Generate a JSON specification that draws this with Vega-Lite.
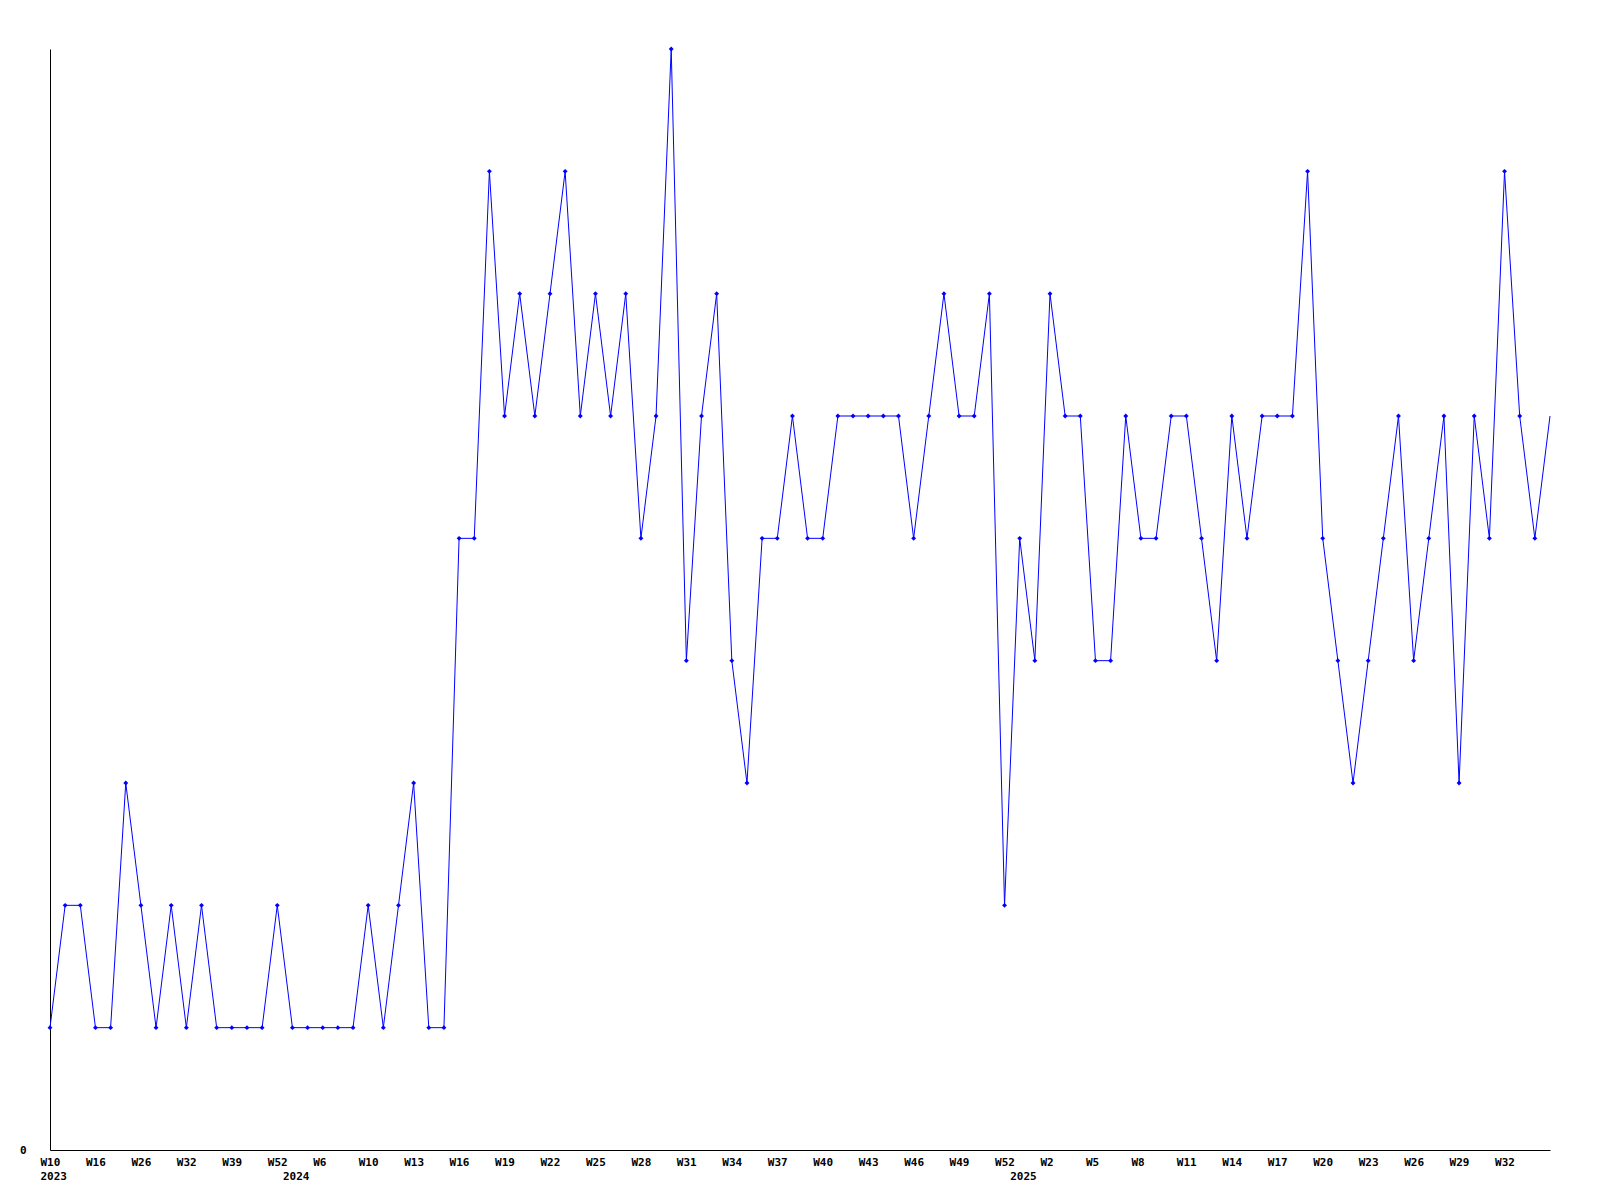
{
  "$schema": "https://vega.github.io/schema/vega-lite/v6.json",
  "width": 1500,
  "height": 1101,
  "autosize": "none",
  "padding": {"left": 50, "top": 49, "right": 50, "bottom": 50},
  "background": "white",
  "config": {
    "view": {"stroke": null},
    "axis": {"labelFont": "DejaVu Sans Mono", "labelFontWeight": "bold", "labelFontSize": 11, "labelColor": "black", "domainColor": "black", "domainWidth": 1, "ticks": false, "tickSize": 0, "grid": false, "title": null}
  },
  "data": {"values": [
    {"i":0,"v":1,"wk":"W10","yr":"2023"},{"i":1,"v":2,"wk":"","yr":""},{"i":2,"v":2,"wk":"","yr":""},
    {"i":3,"v":1,"wk":"W16","yr":""},{"i":4,"v":1,"wk":"","yr":""},{"i":5,"v":3,"wk":"","yr":""},
    {"i":6,"v":2,"wk":"W26","yr":""},{"i":7,"v":1,"wk":"","yr":""},{"i":8,"v":2,"wk":"","yr":""},
    {"i":9,"v":1,"wk":"W32","yr":""},{"i":10,"v":2,"wk":"","yr":""},{"i":11,"v":1,"wk":"","yr":""},
    {"i":12,"v":1,"wk":"W39","yr":""},{"i":13,"v":1,"wk":"","yr":""},{"i":14,"v":1,"wk":"","yr":""},
    {"i":15,"v":2,"wk":"W52","yr":""},{"i":16,"v":1,"wk":"","yr":"2024"},{"i":17,"v":1,"wk":"","yr":""},
    {"i":18,"v":1,"wk":"W6","yr":""},{"i":19,"v":1,"wk":"","yr":""},{"i":20,"v":1,"wk":"","yr":""},
    {"i":21,"v":2,"wk":"W10","yr":""},{"i":22,"v":1,"wk":"","yr":""},{"i":23,"v":2,"wk":"","yr":""},
    {"i":24,"v":3,"wk":"W13","yr":""},{"i":25,"v":1,"wk":"","yr":""},{"i":26,"v":1,"wk":"","yr":""},
    {"i":27,"v":5,"wk":"W16","yr":""},{"i":28,"v":5,"wk":"","yr":""},{"i":29,"v":8,"wk":"","yr":""},
    {"i":30,"v":6,"wk":"W19","yr":""},{"i":31,"v":7,"wk":"","yr":""},{"i":32,"v":6,"wk":"","yr":""},
    {"i":33,"v":7,"wk":"W22","yr":""},{"i":34,"v":8,"wk":"","yr":""},{"i":35,"v":6,"wk":"","yr":""},
    {"i":36,"v":7,"wk":"W25","yr":""},{"i":37,"v":6,"wk":"","yr":""},{"i":38,"v":7,"wk":"","yr":""},
    {"i":39,"v":5,"wk":"W28","yr":""},{"i":40,"v":6,"wk":"","yr":""},{"i":41,"v":9,"wk":"","yr":""},
    {"i":42,"v":4,"wk":"W31","yr":""},{"i":43,"v":6,"wk":"","yr":""},{"i":44,"v":7,"wk":"","yr":""},
    {"i":45,"v":4,"wk":"W34","yr":""},{"i":46,"v":3,"wk":"","yr":""},{"i":47,"v":5,"wk":"","yr":""},
    {"i":48,"v":5,"wk":"W37","yr":""},{"i":49,"v":6,"wk":"","yr":""},{"i":50,"v":5,"wk":"","yr":""},
    {"i":51,"v":5,"wk":"W40","yr":""},{"i":52,"v":6,"wk":"","yr":""},{"i":53,"v":6,"wk":"","yr":""},
    {"i":54,"v":6,"wk":"W43","yr":""},{"i":55,"v":6,"wk":"","yr":""},{"i":56,"v":6,"wk":"","yr":""},
    {"i":57,"v":5,"wk":"W46","yr":""},{"i":58,"v":6,"wk":"","yr":""},{"i":59,"v":7,"wk":"","yr":""},
    {"i":60,"v":6,"wk":"W49","yr":""},{"i":61,"v":6,"wk":"","yr":""},{"i":62,"v":7,"wk":"","yr":""},
    {"i":63,"v":2,"wk":"W52","yr":""},{"i":64,"v":5,"wk":"","yr":"2025"},{"i":65,"v":4,"wk":"","yr":""},
    {"i":66,"v":7,"wk":"W2","yr":""},{"i":67,"v":6,"wk":"","yr":""},{"i":68,"v":6,"wk":"","yr":""},
    {"i":69,"v":4,"wk":"W5","yr":""},{"i":70,"v":4,"wk":"","yr":""},{"i":71,"v":6,"wk":"","yr":""},
    {"i":72,"v":5,"wk":"W8","yr":""},{"i":73,"v":5,"wk":"","yr":""},{"i":74,"v":6,"wk":"","yr":""},
    {"i":75,"v":6,"wk":"W11","yr":""},{"i":76,"v":5,"wk":"","yr":""},{"i":77,"v":4,"wk":"","yr":""},
    {"i":78,"v":6,"wk":"W14","yr":""},{"i":79,"v":5,"wk":"","yr":""},{"i":80,"v":6,"wk":"","yr":""},
    {"i":81,"v":6,"wk":"W17","yr":""},{"i":82,"v":6,"wk":"","yr":""},{"i":83,"v":8,"wk":"","yr":""},
    {"i":84,"v":5,"wk":"W20","yr":""},{"i":85,"v":4,"wk":"","yr":""},{"i":86,"v":3,"wk":"","yr":""},
    {"i":87,"v":4,"wk":"W23","yr":""},{"i":88,"v":5,"wk":"","yr":""},{"i":89,"v":6,"wk":"","yr":""},
    {"i":90,"v":4,"wk":"W26","yr":""},{"i":91,"v":5,"wk":"","yr":""},{"i":92,"v":6,"wk":"","yr":""},
    {"i":93,"v":3,"wk":"W29","yr":""},{"i":94,"v":6,"wk":"","yr":""},{"i":95,"v":5,"wk":"","yr":""},
    {"i":96,"v":8,"wk":"W32","yr":""},{"i":97,"v":6,"wk":"","yr":""},{"i":98,"v":5,"wk":"","yr":""},
    {"i":99,"v":6,"wk":"","yr":""}
  ]},
  "transform": [
    {"calculate": "datum.i + '|' + datum.wk + '|' + datum.yr", "as": "key"}
  ],
  "encoding": {
    "x": {
      "field": "key", "type": "ordinal", "sort": {"field": "i"},
      "scale": {"type": "point", "padding": 0},
      "axis": {
        "labelAngle": 0, "labelAlign": "left", "labelBaseline": "top",
        "labelOffset": -10, "labelPadding": 6, "labelLineHeight": 14,
        "labelOverlap": false, "labelBound": false, "labelFlush": false,
        "labelExpr": "[split(datum.value, '|')[1], split(datum.value, '|')[2]]"
      }
    },
    "y": {
      "field": "v", "type": "quantitative",
      "scale": {"domain": [0, 9], "nice": false, "zero": true},
      "axis": {"values": [0], "labelPadding": 24, "labelBaseline": "top", "labelOffset": -6}
    }
  },
  "layer": [
    {"mark": {"type": "line", "color": "#0000ff", "strokeWidth": 1}},
    {
      "transform": [{"filter": "datum.i < 99"}],
      "mark": {"type": "point", "shape": "diamond", "filled": true, "color": "#0000ff", "size": 24, "opacity": 1}
    }
  ]
}
